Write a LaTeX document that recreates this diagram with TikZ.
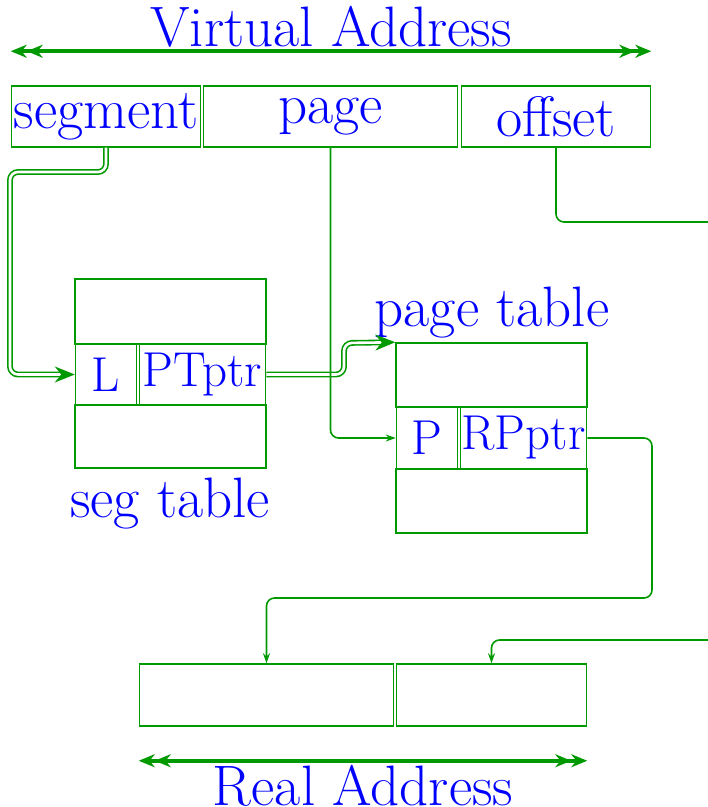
\documentclass[tikz,border=0pt]{standalone}
\usepackage{fontspec}
\usepackage{tikz}
\usetikzlibrary{arrows.meta, positioning}
\definecolor{wire}{HTML}{009900}
\newcommand{\bigtxt}{\fontsize{28.5}{33}\selectfont}
\newcommand{\celltxt}{\fontsize{24.5}{29}\selectfont}

\begin{document}
\begin{tikzpicture}[x=0.5pt, y=-0.5pt,
  field/.style={draw=wire, line width=0.75pt, inner sep=0pt, text=blue, font=\bigtxt,
                minimum height=30.5pt},
  row/.style={draw=wire, line width=0.75pt, inner sep=0pt, minimum width=95.5pt},
  cell/.style={draw=wire, line width=0.75pt, inner sep=0pt, text=blue, font=\celltxt},
  lbl/.style={text=blue, font=\bigtxt, inner sep=0pt, anchor=base},
  span/.style={draw=wire, line width=2pt,
               {Stealth[length=8pt,width=6.5pt]Stealth[length=8pt,width=6.5pt]}-{Stealth[length=8pt,width=6.5pt]Stealth[length=8pt,width=6.5pt]}},
  link/.style={draw=wire, line width=0.8pt, rounded corners=4pt, -{Stealth[length=5pt,width=3.5pt]}},
  dbl/.style={draw=wire, line width=0.8pt, double=white, double distance=1.3pt,
              rounded corners=4pt, -{Stealth[length=10pt,width=8pt]}}
]
  \useasboundingbox (0,0) rectangle (707,807);

  \node[field, minimum width=94.5pt] (seg) at (106,116.5) {segment};
  \node[field, minimum width=127pt] (pg) at (330.5,116.5) {page};
  \node[field, minimum width=94.5pt] (off) at (556,116.5) {offset};
  \node[lbl] (va) at (331,47) {Virtual Address};

  \node[row, minimum height=32.5pt] (stop) at (170.5,311.5) {};
  \node[cell, minimum width=30.5pt, minimum height=30.5pt] (sL) at (106,374.5) {L};
  \node[cell, minimum width=63pt, minimum height=30.5pt] (sP) at (202.5,374.5) {PTptr};
  \node[row, minimum height=31.5pt] (sbot) at (170.5,436.5) {};
  \node[lbl] (st) at (170,517) {seg table};

  \node[row, minimum height=32pt] (ptop) at (491.5,375) {};
  \node[cell, minimum width=30.5pt, minimum height=31pt] (pP) at (427,438) {P};
  \node[cell, minimum width=63pt, minimum height=31pt] (pR) at (523.5,438) {RPptr};
  \node[row, minimum height=32pt] (pbot) at (491.5,501) {};
  \node[lbl] (pt) at (492,327) {page table};

  \node[field, minimum width=127pt, minimum height=31pt] (rpg) at (266.5,695) {};
  \node[field, minimum width=95pt, minimum height=31pt] (roff) at (491.5,695) {};
  \node[lbl] (ra) at (363,805) {Real Address};

  \coordinate (offout) at (712,222);
  \coordinate (offin) at (712,640);

  \draw[span] ([yshift=17pt]seg.north west) -- ([yshift=17pt]off.north east);
  \draw[span] ([yshift=-17pt]rpg.south west) -- ([yshift=-17pt]roff.south east);

  \draw[dbl] (seg.south) |- (10,172) |- (sL.west);
  \draw[dbl] (sP.east) -- (344,374.5) -- (344,343) -- (ptop.north west);
  \draw[link] (pg.south) |- (pP.west);
  \draw[link, -] (off.south) |- (offout);
  \draw[link] (offin) -| (roff.north);
  \draw[link] (pR.east) -| (652,598) -| (rpg.north);
\end{tikzpicture}
\end{document}
